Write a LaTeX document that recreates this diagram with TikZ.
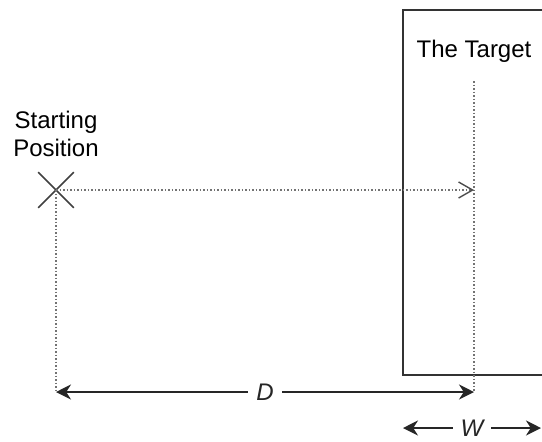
\documentclass[tikz,border=0pt]{standalone}
\usepackage{fontspec}
\setmainfont{Liberation Sans}
\usetikzlibrary{arrows.meta, positioning, shapes.misc}

\begin{document}
\begin{tikzpicture}[
  x=0.5pt, y=-0.5pt,
  font=\fontsize{12}{14}\selectfont,
  guide/.style={densely dotted, draw=black!55, line width=0.75pt},
  approach/.style={-{Straight Barb[length=7pt, width=8pt, line width=0.7pt, black!70]}},
  wall/.style={rectangle, draw=black!80, line width=1pt, inner sep=0pt},
  startX/.style={cross out, draw=black!75, line width=0.8pt, minimum size=17pt, inner sep=0pt},
  dim/.style={{Stealth[length=7.5pt, width=7.5pt, inset=2.4pt]}-{Stealth[length=7.5pt, width=7.5pt, inset=2.4pt]},
              line width=0.9pt, black!85},
  lbl/.style={fill=white, inner xsep=4pt, inner ysep=1pt, font=\fontsize{12}{14}\selectfont\itshape, text=black!85}
]
\useasboundingbox (0,0) rectangle (542,441);
\clip (0,0) rectangle (542,441);

% the target and its labels
\node[wall, anchor=north west, minimum width=90pt, minimum height=182.5pt] (target) at (402,9) {};
\node[anchor=base] (title) at (474,57) {The Target};
\node[startX] (start) at (56,190) {};
\node[above=4pt of start, align=center] (startLbl) {Starting\\Position};

\coordinate (hit) at (474,190);
\coordinate (guideTop) at (474,81);
\coordinate (dLeft) at (56,392);
\coordinate (dRight) at (474,392);
\coordinate (wLeft) at (403,428);
\coordinate (wRight) at (541,428);

% guide lines
\draw[guide] (start.center) -- (dLeft);
\draw[guide] (guideTop) -- (dRight);
\draw[guide, approach] (start.center) -- (hit);

% distances
\draw[dim] (dLeft) -- node[lbl] {D} (dRight);
\draw[dim] (wLeft) -- node[lbl] {W} (wRight);
\end{tikzpicture}
\end{document}
